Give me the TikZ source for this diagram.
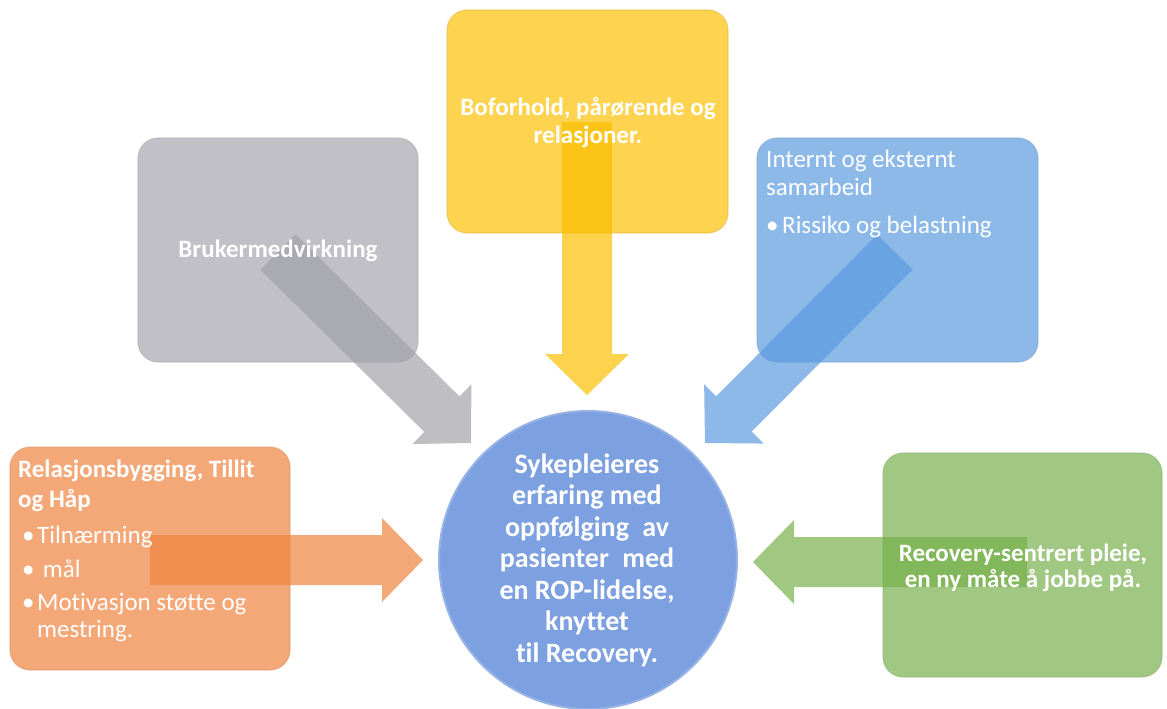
\documentclass[tikz,border=0pt]{standalone}
\usepackage{fontspec}
\setmainfont[Ligatures={NoCommon}]{Carlito}
\usetikzlibrary{calc}
\definecolor{graybox}{RGB}{192,192,198}
\definecolor{grayarr}{RGB}{162,162,169}
\definecolor{yelbox}{RGB}{254,211,80}
\definecolor{yelarr}{RGB}{252,191,0}
\definecolor{bluebox}{RGB}{141,185,233}
\definecolor{bluearr}{RGB}{92,155,222}
\definecolor{orabox}{RGB}{244,168,120}
\definecolor{oraarr}{RGB}{239,131,62}
\definecolor{grnbox}{RGB}{160,200,130}
\definecolor{grnarr}{RGB}{119,176,76}
\definecolor{circfill}{RGB}{125,160,224}
\newcommand\blockarrow[3]{%
  \coordinate (ba-h) at ($(#2)!41pt!(#1)$);
  \fill[#3] ($(#1)!25pt!90:(#2)$) -- ($(ba-h)!25pt!90:(#2)$) -- ($(ba-h)!42pt!90:(#2)$)
    -- (#2) -- ($(ba-h)!42pt!-90:(#2)$) -- ($(ba-h)!25pt!-90:(#2)$) -- ($(#1)!25pt!-90:(#2)$) -- cycle;
}
\newcommand\bul{\makebox[19pt][l]{\hspace*{4pt}•}}
\begin{document}
\begin{tikzpicture}[x=1pt,y=-1pt,
  box/.style={rounded corners=20pt, fill=#1, draw=#1!88!black, draw opacity=0.5, line width=1.2pt, inner sep=0pt},
  arr/.style={fill=#1, fill opacity=0.7},
  lbl/.style={text=white, inner sep=0pt, anchor=base},
  bold25/.style={lbl, font=\fontsize{25}{28}\selectfont\bfseries},
  reg25/.style={lbl, anchor=base west, font=\fontsize{25}{28}\selectfont},
]
\useasboundingbox (0,0) rectangle (1167,709);
% boxes
\node[box=graybox, minimum width=280pt, minimum height=224pt] (gray) at (278,250) {};
\node[box=yelbox, minimum width=281pt, minimum height=223pt] (yel) at (587.5,121.5) {};
\node[box=bluebox, minimum width=281pt, minimum height=224pt] (blue) at (897.5,250) {};
\node[box=orabox, minimum width=280pt, minimum height=223pt] (ora) at (150,558.5) {};
\node[box=grnbox, minimum width=279pt, minimum height=224pt] (grn) at (1022.5,565) {};
\node[circle, fill=circfill, draw=circfill!80!white, line width=2pt, minimum size=298pt, inner sep=0pt] (ctr) at (588,560) {};
% arrow ends
\coordinate (gs) at (278,252); \coordinate (gt) at (471,443);
\coordinate (ys) at (587,122); \coordinate (yt) at (587,395);
\coordinate (bs) at (895,252); \coordinate (bt) at (705,443);
\coordinate (os) at (150,560); \coordinate (ot) at (423,560);
\coordinate (ns) at (1027,562); \coordinate (nt) at (753,562);
\blockarrow{gs}{gt}{arr=grayarr}
\blockarrow{ys}{yt}{arr=yelarr}
\blockarrow{bs}{bt}{arr=bluearr}
\blockarrow{os}{ot}{arr=oraarr}
\blockarrow{ns}{nt}{arr=grnarr}
% texts
\node[bold25] (grayt) at (278,257) {Brukermedvirkning};
\node[bold25] (yelt) at (588,115) {\begin{tabular}[t]{@{}c@{}}Boforhold, pårørende og\\relasjoner.\end{tabular}};
\node[reg25] (bluet) at (766,167) {\begin{tabular}[t]{@{}l@{}}Internt og eksternt\\samarbeid\\[10pt]\makebox[16pt][l]{•}Rissiko og belastning\end{tabular}};
\node[reg25] (orat) at (18,477) {\begin{tabular}[t]{@{}l@{}}\textbf{Relasjonsbygging, Tillit}\\[2pt]\textbf{og Håp}\\[8pt]
  \bul Tilnærming\\[6pt]\bul\ mål\\[5pt]\bul Motivasjon støtte og\\[-1pt]\hspace*{19pt}mestring.\end{tabular}};
\node[lbl, font=\fontsize{28}{31.5}\selectfont\bfseries] (ctrt) at (587,473) {\begin{tabular}[t]{@{}c@{}}Sykepleieres\\erfaring med\\oppfølging\hspace{0.25em} av\\pasienter\hspace{0.25em} med\\en ROP-lidelse,\\knyttet\\til Recovery.\end{tabular}};
\node[lbl, font=\fontsize{25}{26}\selectfont\bfseries] (grnt) at (1023,561) {\begin{tabular}[t]{@{}c@{}}Recovery-sentrert pleie,\\en ny måte å jobbe på.\end{tabular}};
\end{tikzpicture}
\end{document}
